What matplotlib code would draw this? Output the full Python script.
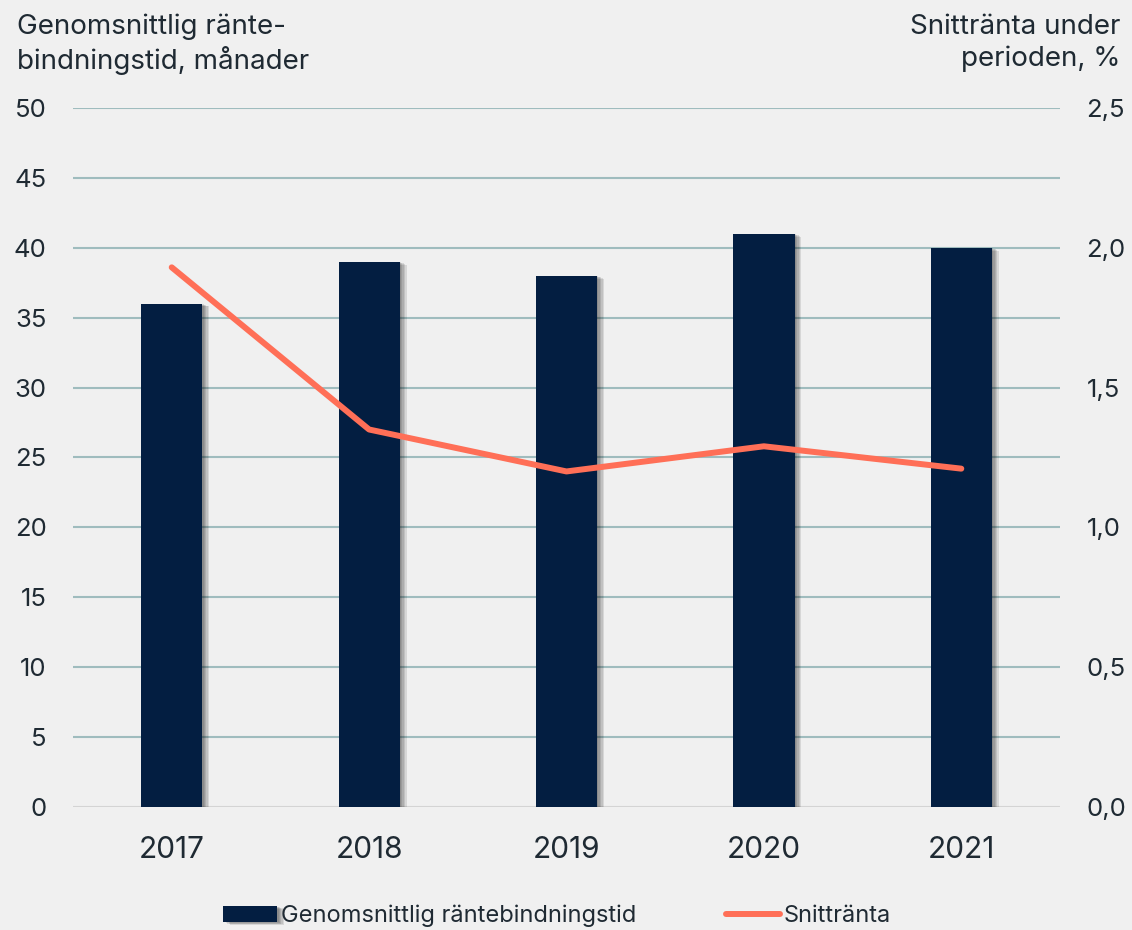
import matplotlib.pyplot as plt
import matplotlib.patheffects as pe
import numpy as np

years = ["2017", "2018", "2019", "2020", "2021"]
bindningstid = [36, 39, 38, 41, 40]            # månader
snittranta = [1.93, 1.35, 1.20, 1.29, 1.21]    # procent

bg = "#f0f0f0"
navy = "#031e41"
coral = "#ff6f57"
grid_col = "#9fbcbe"
txt = "#1f2a33"

plt.rcParams['font.family'] = ['Inter', 'DejaVu Sans']

fig = plt.figure(figsize=(11.32, 9.3), dpi=100, facecolor=bg)
ax = fig.add_axes([0.0645, 0.1323, 0.8719, 0.7516])
ax.set_facecolor(bg)
x = np.arange(len(years))

# soft drop shadow on the bars, a few stacked offsets
shadow = [pe.SimplePatchShadow(offset=(d, -d * 0.4), shadow_rgbFace="#000000", alpha=0.1)
          for d in (1.0, 2.0, 3.0, 4.0, 5.0)]
bars = ax.bar(x, bindningstid, width=0.31, color=navy, zorder=3,
              label="Genomsnittlig räntebindningstid")
for b in bars:
    b.set_path_effects(shadow + [pe.Normal()])

ax.set_xlim(-0.5, len(years) - 0.5)
ax.set_ylim(0, 50)
ax.set_yticks(np.arange(0, 51, 5))
for yv in np.arange(5, 51, 5):
    ax.axhline(yv, color=grid_col, lw=1.5, zorder=1)
ax.axhline(0, color="#d4d4d4", lw=1.5, zorder=1)

ax.set_xticks(x, years)
ax.tick_params(axis="x", length=0, pad=21, labelsize=21.5, colors=txt)
ax.tick_params(axis="y", length=0, pad=19, labelsize=18.5, colors=txt)
for s in ax.spines.values():
    s.set_visible(False)

ax2 = ax.twinx()
ax2.plot(x, snittranta, color=coral, lw=4.3, solid_capstyle="round",
         solid_joinstyle="round", zorder=5, label="Snittränta")
ax2.set_ylim(0, 2.5)
ax2.set_yticks(np.arange(0, 2.51, 0.5))
ax2.set_yticklabels([f"{v:.1f}".replace(".", ",") for v in np.arange(0, 2.51, 0.5)])
ax2.tick_params(axis="y", length=0, pad=19, labelsize=18.5, colors=txt)
for s in ax2.spines.values():
    s.set_visible(False)

fig.text(0.015, 0.985, "Genomsnittlig ränte-\nbindningstid, månader", ha="left", va="top",
         fontsize=20, color=txt, linespacing=1.25)
fig.text(0.99, 0.985, "Snittränta under\nperioden, %", ha="right", va="top",
         fontsize=20, color=txt, linespacing=1.25, multialignment="right")

h1, l1 = ax.get_legend_handles_labels()
h2, l2 = ax2.get_legend_handles_labels()
leg = fig.legend(h1 + h2, l1 + l2, loc="center", bbox_to_anchor=(0.492, 0.015),
                 ncol=2, frameon=False, fontsize=17, handlelength=2.3,
                 handleheight=0.65, handletextpad=0.15, columnspacing=3.8,
                 borderpad=0, labelcolor=txt)

fig.savefig("out.png", dpi=100, facecolor=bg)
